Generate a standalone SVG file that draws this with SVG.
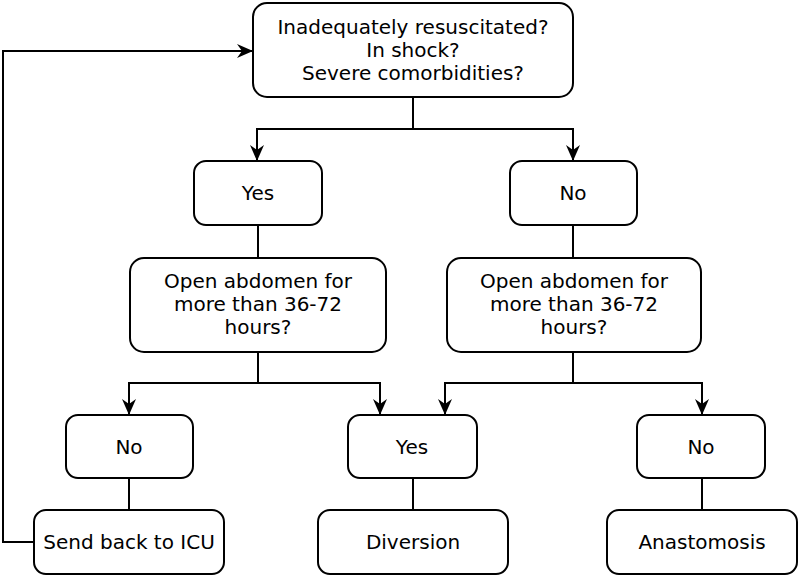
<svg xmlns="http://www.w3.org/2000/svg" width="800" height="577" viewBox="0 0 800 577">
<style>
.box{fill:#fff;stroke:#000;stroke-width:2}
.t{font-family:"DejaVu Sans",Verdana,sans-serif;font-size:20px;text-anchor:middle;fill:#000}
.c{fill:none;stroke:#000;stroke-width:2}
</style>
<defs>
<marker id="ah" viewBox="0 0 16 14" refX="15" refY="7" markerWidth="16" markerHeight="14" markerUnits="userSpaceOnUse" orient="auto">
<path d="M0,0 L16,7 L0,14 L5,7 Z" fill="#000"/>
</marker>
</defs>
<rect width="800" height="577" fill="#fff"/>
<g id="connectors">
<path class="c" d="M413,97 V129 H257 V160" marker-end="url(#ah)"/>
<path class="c" d="M413,129 H573 V160" marker-end="url(#ah)"/>
<path class="c" d="M258,225 V258"/>
<path class="c" d="M573,225 V258"/>
<path class="c" d="M258,352 V383 H129 V414" marker-end="url(#ah)"/>
<path class="c" d="M258,383 H380 V414" marker-end="url(#ah)"/>
<path class="c" d="M573,352 V383 H445 V414" marker-end="url(#ah)"/>
<path class="c" d="M573,383 H702 V414" marker-end="url(#ah)"/>
<path class="c" d="M129,478 V510"/>
<path class="c" d="M413,478 V510"/>
<path class="c" d="M702,478 V510"/>
<path class="c" d="M34,542 H3 V51 H252" marker-end="url(#ah)"/>
</g>
<g id="n1"><rect class="box" x="253" y="3" width="320" height="94" rx="14"/>
<text class="t" x="413" y="34">Inadequately resuscitated?</text>
<text class="t" x="413" y="57">In shock?</text>
<text class="t" x="413" y="80">Severe comorbidities?</text></g>
<g id="n2"><rect class="box" x="194" y="161" width="128" height="64" rx="12"/><text class="t" x="258" y="200">Yes</text></g>
<g id="n3"><rect class="box" x="510" y="161" width="127" height="64" rx="12"/><text class="t" x="573" y="200">No</text></g>
<g id="n4"><rect class="box" x="130" y="258" width="256" height="94" rx="14"/>
<text class="t" x="258" y="288">Open abdomen for</text>
<text class="t" x="258" y="311">more than 36-72</text>
<text class="t" x="258" y="334">hours?</text></g>
<g id="n5"><rect class="box" x="447" y="258" width="254" height="94" rx="14"/>
<text class="t" x="574" y="288">Open abdomen for</text>
<text class="t" x="574" y="311">more than 36-72</text>
<text class="t" x="574" y="334">hours?</text></g>
<g id="n6"><rect class="box" x="66" y="415" width="127" height="63" rx="12"/><text class="t" x="129" y="454">No</text></g>
<g id="n7"><rect class="box" x="348" y="415" width="129" height="63" rx="12"/><text class="t" x="412" y="454">Yes</text></g>
<g id="n8"><rect class="box" x="637" y="415" width="128" height="63" rx="12"/><text class="t" x="701" y="454">No</text></g>
<g id="n9"><rect class="box" x="34" y="510" width="190" height="64" rx="12"/><text class="t" x="129" y="549">Send back to ICU</text></g>
<g id="n10"><rect class="box" x="318" y="510" width="190" height="64" rx="12"/><text class="t" x="413" y="549">Diversion</text></g>
<g id="n11"><rect class="box" x="607" y="510" width="190" height="64" rx="12"/><text class="t" x="702" y="549">Anastomosis</text></g>
</svg>
